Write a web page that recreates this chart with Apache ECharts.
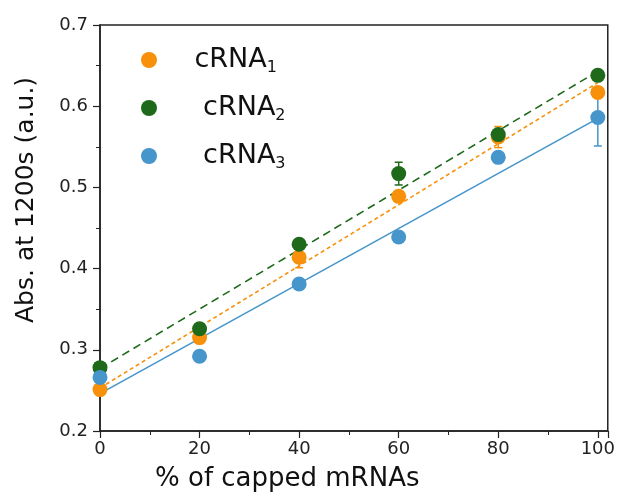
<!DOCTYPE html>
<html>
<head>
<meta charset="utf-8">
<script src="https://cdn.jsdelivr.net/npm/echarts@6/dist/echarts.min.js"></script>
<style>
  html, body { margin: 0; padding: 0; background: #fff; }
  #chart { width: 618px; height: 500px; }
</style>
</head>
<body>
<div id="chart"></div>
<script>
// data
const xValues = [0, 20, 40, 60, 80, 100];
const crna1 = [0.251, 0.315, 0.414, 0.489, 0.562, 0.617];
const crna1Err = [0.004, 0.006, 0.013, 0.004, 0.013, 0.006];
const crna2 = [0.278, 0.326, 0.430, 0.517, 0.565, 0.638];
const crna2Err = [0.003, 0.005, 0.004, 0.014, 0.006, 0.004];
const crna3 = [0.266, 0.292, 0.381, 0.439, 0.537, 0.586];
const crna3Err = [0.003, 0.004, 0.004, 0.004, 0.004, 0.035];
// linear fit lines, end values at x = 0 and x = 100
const fitX = [0, 100];
const fit1 = [0.253, 0.629];
const fit2 = [0.277, 0.643];
const fit3 = [0.246, 0.585];
const names = ['cRNA1', 'cRNA2', 'cRNA3'];
const xTicks = [0, 20, 40, 60, 80, 100];
const yTicks = [0.2, 0.3, 0.4, 0.5, 0.6, 0.7];

(function () {
  let myChart = echarts.init(document.getElementById('chart'));

  let colors = ['#F7900A', '#1F6A1A', '#4695CB'];
  let font = 'DejaVu Sans';

  function pairs(xs, ys) {
    return xs.map((x, i) => [x, ys[i]]);
  }
  function errData(ys, errs) {
    return xValues.map((x, i) => [x, ys[i] - errs[i], ys[i] + errs[i]]);
  }

  // error bar drawn with a custom series
  function errSeries(ys, errs, color) {
    return {
      type: 'custom',
      z: 2,
      silent: true,
      data: errData(ys, errs),
      renderItem: function (params, api) {
        let x = api.value(0);
        let lo = api.coord([x, api.value(1)]);
        let hi = api.coord([x, api.value(2)]);
        let w = 4;
        let style = { stroke: color, lineWidth: 1.5 };
        return {
          type: 'group',
          children: [
            { type: 'line', shape: { x1: lo[0], y1: lo[1], x2: hi[0], y2: hi[1] }, style: style },
            { type: 'line', shape: { x1: lo[0] - w, y1: lo[1], x2: lo[0] + w, y2: lo[1] }, style: style },
            { type: 'line', shape: { x1: hi[0] - w, y1: hi[1], x2: hi[0] + w, y2: hi[1] }, style: style }
          ]
        };
      }
    };
  }

  function fitSeries(ys, color, dash) {
    return {
      type: 'line',
      z: 1,
      silent: true,
      symbol: 'none',
      data: pairs(fitX, ys),
      lineStyle: { color: color, width: 1.6, type: dash }
    };
  }

  function dotSeries(name, ys, color) {
    return {
      name: name,
      type: 'scatter',
      z: 3,
      symbolSize: 15,
      data: pairs(xValues, ys),
      itemStyle: { color: color, opacity: 1 }
    };
  }

  let option = {
    animation: false,
    color: colors,
    grid: {
      left: 100,
      top: 25,
      right: 8,
      bottom: 69,
      show: true,
      borderColor: '#222',
      borderWidth: 1.5
    },
    legend: {
      orient: 'vertical',
      left: 136,
      top: 41,
      itemGap: 18,
      itemWidth: 17,
      itemHeight: 16,
      icon: 'circle',
      data: names,
      formatter: function (name) {
        let lead = name === names[0] ? '' : ' ';
        return '{b|' + lead + name.slice(0, -1) + '}{s|' + name.slice(-1) + '}';
      },
      textStyle: {
        padding: [0, 0, 0, 32],
        rich: {
          b: { fontFamily: font, fontSize: 27, color: '#111', lineHeight: 32, verticalAlign: 'bottom', padding: [0, 0, 3, 0] },
          s: { fontFamily: font, fontSize: 16, color: '#111', lineHeight: 16, verticalAlign: 'bottom' }
        }
      }
    },
    xAxis: {
      type: 'value',
      min: 0,
      max: 102,
      interval: 20,
      axisLine: { show: true, lineStyle: { color: '#222', width: 1.5 } },
      axisTick: { show: true, length: 7, lineStyle: { color: '#222', width: 1.2 } },
      minorTick: { show: true, splitNumber: 2, length: 4, lineStyle: { color: '#222', width: 1 } },
      splitLine: { show: false },
      axisLabel: {
        fontFamily: font, fontSize: 18, color: '#222', margin: 9,
        formatter: v => xTicks.includes(v) ? String(v) : ''
      }
    },
    yAxis: {
      type: 'value',
      min: 0.2,
      max: 0.7,
      interval: 0.1,
      axisLine: { show: true, lineStyle: { color: '#222', width: 1.5 } },
      axisTick: { show: true, length: 7, lineStyle: { color: '#222', width: 1.2 } },
      minorTick: { show: true, splitNumber: 2, length: 4, lineStyle: { color: '#222', width: 1 } },
      splitLine: { show: false },
      axisLabel: {
        fontFamily: font, fontSize: 18, color: '#222', margin: 12,
        formatter: v => {
          let t = yTicks.find(k => Math.abs(k - v) < 1e-6);
          return t === undefined ? '' : t.toFixed(1);
        }
      }
    },
    graphic: [
      {
        type: 'text',
        left: 155,
        top: 466,
        style: { text: '% of capped mRNAs', fontFamily: font, fontSize: 26, fill: '#111' }
      },
      {
        type: 'text',
        x: 14,
        y: 323,
        rotation: Math.PI / 2,
        style: { text: 'Abs. at 1200s (a.u.)', fontFamily: font, fontSize: 25, fill: '#111' }
      }
    ],
    series: [
      fitSeries(fit3, colors[2], 'solid'),
      fitSeries(fit1, colors[0], [4, 3]),
      fitSeries(fit2, colors[1], [8, 5]),
      errSeries(crna1, crna1Err, colors[0]),
      errSeries(crna2, crna2Err, colors[1]),
      errSeries(crna3, crna3Err, colors[2]),
      dotSeries(names[0], crna1, colors[0]),
      dotSeries(names[1], crna2, colors[1]),
      dotSeries(names[2], crna3, colors[2])
    ]
  };

  myChart.setOption(option);
  window.addEventListener('resize', function () {
    myChart.resize();
  });
})();
</script>
</body>
</html>
